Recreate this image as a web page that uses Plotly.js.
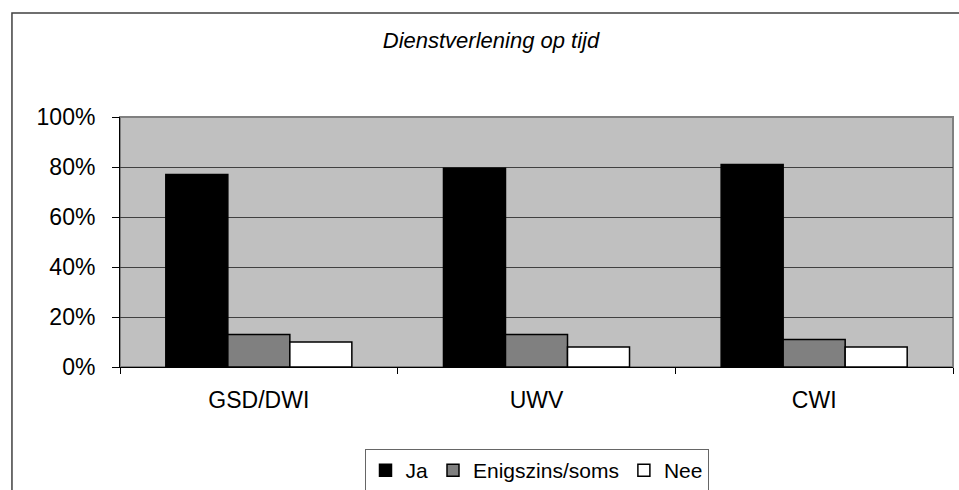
<!DOCTYPE html>
<html>
<head>
<meta charset="utf-8">
<script src="https://cdn.plot.ly/plotly-3.0.1.min.js"></script>
<style>html,body{margin:0;padding:0;background:#fff;}#chart{width:959px;height:490px;}</style>
</head>
<body>
<div id="chart"></div>
<script>
const categories = ["GSD/DWI", "UWV", "CWI"];
const seriesNames = ["Ja", "Enigszins/soms", "Nee"];
const ja = [77, 79.5, 81];
const enigszins = [13, 13, 11];
const nee = [10, 8, 8];
const yTickVals = [0, 20, 40, 60, 80, 100];
const yTickText = ["0%", "20%", "40%", "60%", "80%", "100%"];
const titleText = "Dienstverlening op tijd";

const colors = ["#000000", "#808080", "#ffffff"];
const values = [ja, enigszins, nee];

const traces = seriesNames.map((name, i) => ({
  type: "bar",
  name: name,
  x: categories,
  y: values[i],
  marker: { color: colors[i], line: { color: "#000000", width: 1.5 } },
  hoverinfo: "skip"
}));

const font = "Liberation Sans, Arial, sans-serif";

const layout = {
  width: 959,
  height: 490,
  margin: { l: 120, r: 6, t: 117, b: 123, pad: 0, autoexpand: false },
  paper_bgcolor: "#ffffff",
  plot_bgcolor: "#c0c0c0",
  barmode: "group",
  bargap: 0.33,
  bargroupgap: 0,
  showlegend: true,
  font: { family: font, color: "#000000", size: 22 },
  title: {
    text: "<i>" + titleText + "</i>",
    font: { family: font, size: 22, color: "#000000" },
    xref: "container", x: 0.512, xanchor: "center",
    yref: "container", y: 0.918, yanchor: "middle"
  },
  xaxis: {
    type: "category",
    showline: true, linecolor: "#000000", linewidth: 1,
    ticks: "outside", tickson: "boundaries", ticklen: 6, tickcolor: "#000000", tickwidth: 1,
    ticklabelstandoff: 12,
    tickfont: { family: font, size: 23, color: "#000000" },
    showgrid: false, zeroline: false, fixedrange: true, automargin: false
  },
  yaxis: {
    range: [0, 100],
    tickvals: yTickVals, ticktext: yTickText,
    showline: true, linecolor: "#000000", linewidth: 1,
    ticks: "outside", ticklen: 7, tickcolor: "#000000", tickwidth: 1,
    ticklabelstandoff: 12,
    tickfont: { family: font, size: 23, color: "#000000" },
    showgrid: true, gridcolor: "#404040", gridwidth: 1,
    zeroline: false, fixedrange: true, automargin: false
  },
  legend: {
    orientation: "h",
    xref: "paper", x: 0.5, xanchor: "center",
    yref: "container", y: 0.0837, yanchor: "top",
    bordercolor: "#666666", borderwidth: 1, bgcolor: "#ffffff",
    font: { family: font, size: 21, color: "#000000" },
    traceorder: "normal"
  },
  shapes: [
    { type: "rect", xref: "paper", yref: "paper", x0: -0.1297, x1: 1.02, y0: -0.55, y1: 1.416,
      line: { color: "#404040", width: 1.5 }, fillcolor: "rgba(0,0,0,0)", layer: "below" },
    { type: "rect", xref: "paper", yref: "paper", x0: 0, x1: 1, y0: 0, y1: 1,
      line: { color: "#808080", width: 2 }, fillcolor: "rgba(0,0,0,0)", layer: "below" }
  ]
};

Plotly.newPlot("chart", traces, layout, { displayModeBar: false, staticPlot: true });
</script>
</body>
</html>
